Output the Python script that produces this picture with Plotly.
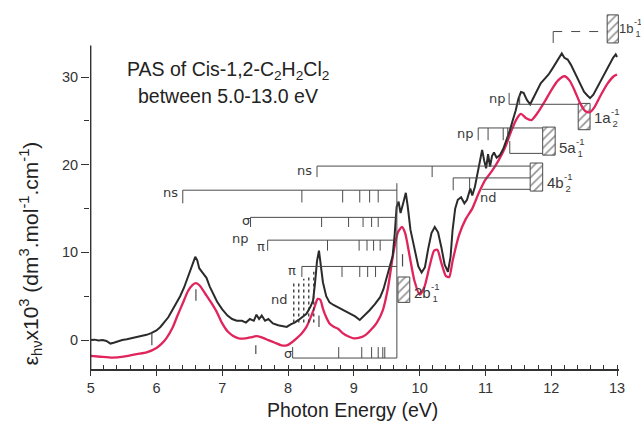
import plotly.graph_objects as go

# ---------------- data ----------------
black_energy = [5.00, 5.06, 5.12, 5.18, 5.24, 5.30, 5.35, 5.42, 5.48, 5.55, 5.62, 5.70, 5.78, 5.85, 5.92,
                6.00, 6.06, 6.12, 6.18, 6.24, 6.30, 6.36, 6.42, 6.47, 6.52, 6.56, 6.59, 6.62, 6.65, 6.70,
                6.76, 6.81, 6.86, 6.92, 7.00, 7.08, 7.15, 7.22, 7.30, 7.36, 7.42, 7.48, 7.52, 7.56, 7.60,
                7.65, 7.70, 7.77, 7.85, 7.92, 7.98, 8.04, 8.10, 8.16, 8.22, 8.28, 8.34, 8.38, 8.41, 8.44,
                8.47, 8.50, 8.53, 8.58, 8.63, 8.69, 8.74, 8.80, 8.87, 8.94, 9.02, 9.09, 9.16, 9.24, 9.32,
                9.40, 9.45, 9.50, 9.55, 9.59, 9.62, 9.65, 9.68, 9.71, 9.75, 9.79, 9.82, 9.86, 9.90, 9.94,
                9.98, 10.03, 10.08, 10.13, 10.18, 10.23, 10.28, 10.33, 10.38, 10.43, 10.47, 10.50, 10.54,
                10.58, 10.63, 10.68, 10.72, 10.77, 10.80, 10.84, 10.88, 10.92, 10.95, 10.98, 11.01, 11.04,
                11.07, 11.10, 11.13, 11.17, 11.22, 11.27, 11.32, 11.37, 11.42, 11.46, 11.50, 11.54, 11.58,
                11.63, 11.68, 11.73, 11.78, 11.84, 11.90, 11.96, 12.02, 12.07, 12.12, 12.16, 12.20, 12.25,
                12.30, 12.35, 12.40, 12.45, 12.50, 12.55, 12.59, 12.64, 12.69, 12.74, 12.79, 12.84, 12.89,
                12.94, 12.98, 13.00]
black_eps = [0.0, 0.05, -0.05, 0.0, -0.1, -0.4, -0.3, -0.1, 0.0, 0.1, 0.2, 0.3, 0.5, 0.6, 0.8,
             1.1, 1.5, 2.1, 2.6, 3.4, 4.2, 5.0, 6.0, 7.0, 8.2, 9.0, 9.5, 9.1, 8.2, 7.7,
             7.1, 6.1, 5.3, 4.4, 3.5, 2.8, 2.4, 2.2, 2.2, 2.0, 2.4, 2.2, 2.9, 2.4, 2.8,
             2.2, 2.4, 1.9, 1.7, 1.6, 1.5, 1.8, 2.0, 2.3, 2.6, 3.0, 3.8, 4.5, 6.5, 9.0,
             10.2, 8.5, 6.6, 5.0, 4.3, 4.0, 3.8, 3.6, 3.3, 3.0, 2.7, 2.3, 2.8, 3.4, 4.1,
             4.9, 5.8, 7.1, 8.3, 9.6, 12.0, 15.2, 15.8, 14.5, 15.6, 16.8, 15.2, 12.6, 11.2, 9.9,
             8.4, 7.7, 8.3, 10.4, 12.2, 12.9, 12.3, 10.6, 8.6, 7.8, 9.5, 12.5, 15.0,
             16.0, 16.3, 15.6, 16.0, 17.3, 16.5, 17.5, 19.0, 20.8, 21.7, 20.5, 19.6, 21.2,
             19.8, 21.0, 21.4, 20.8, 21.1, 21.8, 22.8, 23.9, 25.2, 26.2, 27.5, 28.3, 28.2,
             27.4, 26.9, 27.6, 28.3, 29.3, 29.8, 30.3, 31.0, 31.6, 32.3, 32.7, 32.2, 32.0,
             31.4, 30.6, 29.9, 29.0, 28.3, 27.9, 27.6, 28.0, 28.7, 29.5, 30.1, 30.8, 31.6,
             32.2, 32.6, 32.3]

pink_energy = [5.00, 5.15, 5.33, 5.50, 5.70, 5.85, 6.00, 6.08, 6.15, 6.25, 6.32, 6.40, 6.48, 6.55, 6.60,
               6.66, 6.75, 6.83, 6.91, 7.00, 7.08, 7.16, 7.25, 7.35, 7.45, 7.52, 7.60, 7.70, 7.80, 7.90,
               7.98, 8.05, 8.13, 8.20, 8.28, 8.35, 8.40, 8.45, 8.49, 8.53, 8.58, 8.63, 8.70, 8.76, 8.83,
               8.92, 9.00, 9.10, 9.18, 9.25, 9.35, 9.44, 9.52, 9.60, 9.67, 9.73, 9.78, 9.85, 9.92, 10.00,
               10.07, 10.15, 10.22, 10.27, 10.33, 10.40, 10.45, 10.50, 10.60, 10.70, 10.80, 10.90, 11.00,
               11.10, 11.20, 11.30, 11.40, 11.48, 11.54, 11.62, 11.70, 11.80, 11.90, 12.00, 12.10, 12.20,
               12.28, 12.36, 12.44, 12.52, 12.59, 12.66, 12.75, 12.85, 12.95, 13.00]
pink_eps = [-1.8, -1.9, -2.0, -1.9, -1.6, -1.4, -0.9, -0.4, 0.2, 1.5, 2.8, 4.2, 5.6, 6.3, 6.5,
            6.2, 5.2, 4.3, 3.3, 1.9, 1.0, 0.5, 0.2, 0.2, 0.35, 0.45, 0.3, 0.0, -0.3, -0.6,
            -0.6, -0.3, 0.2, 0.7, 1.5, 2.7, 3.7, 4.7, 4.6, 3.6, 2.6, 1.9, 1.5, 1.3, 0.8,
            0.4, 0.2, 0.3, 0.6, 1.1, 2.0, 3.4, 6.0, 9.9, 12.3, 12.9, 12.2, 9.5, 6.8, 5.2,
            6.0, 8.4, 10.2, 10.3, 8.8, 7.3, 7.2, 9.0, 12.0, 13.8, 15.0, 16.8, 18.3,
            19.3, 20.5, 22.0, 24.0, 25.3, 25.8, 25.3, 25.1, 26.0, 27.2, 28.5, 29.6, 30.1,
            29.6, 28.4, 27.0, 26.1, 26.0, 26.6, 27.9, 29.2, 30.1, 30.3]

x_tick_vals = [5, 6, 7, 8, 9, 10, 11, 12, 13]
x_minor_vals = [round(5 + 0.2 * i, 1) for i in range(41)]
y_tick_vals = [0, 10, 20, 30]
y_minor_vals = [5, 15, 25]
y_axis_top = 33.6

# Rydberg-series brackets: start, end, line level, hook end, tick energies, tick end
bracket_x0 = [6.40, 7.43, 7.69, 8.21, 8.07, 8.44, 10.51, 10.89, 11.37, 11.36]
bracket_x1 = [9.654, 9.654, 9.654, 9.654, 9.654, 11.68, 11.68, 11.87, 11.87, 12.41]
bracket_y = [17.1, 14.0, 11.4, 8.4, -2.05, 19.85, 18.5, 24.2, 21.3, 26.9]
bracket_hook = [15.6, 12.9, 10.2, 7.2, -0.8, 18.6, 17.1, 22.8, 22.7, 28.2]
bracket_ticks = [[8.21, 8.83, 9.09, 9.24, 9.37],
                 [8.51, 8.92, 9.14, 9.27, 9.37],
                 [8.60, 9.08, 9.20, 9.30, 9.40],
                 [8.82, 9.09, 9.21, 9.33],
                 [8.77, 9.12, 9.27, 9.37, 9.44, 9.47],
                 [10.19],
                 [10.76],
                 [11.04, 11.27, 11.34],
                 [],
                 [11.52]]
bracket_tick_to = [15.7, 12.9, 10.2, 7.2, -0.8, 18.6, 17.2, 22.8, 22.7, 27.9]
extra_line_x0 = [10.95]
extra_line_x1 = [11.68]
extra_line_y = [17.2]

series_labels = ["ns", "σ", "np", "π", "π", "nd", "σ", "ns", "nd", "np", "np"]
series_label_x = [6.21, 7.36, 7.28, 7.59, 8.06, 7.87, 8.00, 8.25, 11.04, 10.70, 11.19]
series_label_y = [16.8, 13.6, 11.6, 10.7, 7.9, 4.6, -1.5, 19.4, 16.3, 23.6, 27.6]

# ionisation limits (hatched boxes)
box_name = ["2b", "4b", "5a", "1a", "1b"]
box_sub = ["1", "2", "1", "2", "1"]
box_x0 = [9.67, 11.68, 11.87, 12.41, 12.85]
box_x1 = [9.85, 11.87, 12.06, 12.59, 13.02]
box_y0 = [4.3, 17.0, 21.1, 24.0, 33.9]
box_y1 = [7.2, 20.2, 24.3, 27.0, 37.1]
box_label_y = [5.4, 18.0, 22.0, 25.4, 35.6]

# single band markers
mark_x = [5.93, 6.60, 7.51, 8.47, 9.74]
mark_y0 = [-0.6, 4.5, -1.6, 1.5, 8.4]
mark_y1 = [0.8, 5.8, -0.6, 2.8, 9.8]

# nd lines (dotted)
nd_x = [8.087, 8.163, 8.239, 8.315, 8.391]
nd_top = [6.6, 6.7, 7.0, 7.2, 7.8]
nd_bottom = 2.0

limit_x = 9.654
limit_y = [-2.05, 17.9]
top_x = [12.03, 12.86]
top_y = [35.2, 33.9]

# ---------------- figure ----------------
ann_col = "#4a4a4a"
fig = go.Figure()

for i in range(len(box_name)):
    fig.add_trace(go.Scatter(
        x=[box_x0[i], box_x1[i], box_x1[i], box_x0[i], box_x0[i]],
        y=[box_y0[i], box_y0[i], box_y1[i], box_y1[i], box_y0[i]],
        mode="lines", fill="toself", fillcolor="rgba(0,0,0,0)",
        fillpattern=dict(shape="/", fgcolor="#333", bgcolor="white", size=6, solidity=0.3),
        line=dict(color=ann_col, width=1), hoverinfo="skip", showlegend=False))

fig.add_trace(go.Scatter(x=pink_energy, y=pink_eps, mode="lines",
                         line=dict(color="#e0245c", width=2.3, shape="spline", smoothing=0.6),
                         showlegend=False))
fig.add_trace(go.Scatter(x=black_energy, y=black_eps, mode="lines",
                         line=dict(color="#2b2b2b", width=2), showlegend=False))

def seg(x0, y0, x1, y1, dash="solid", width=1, color=ann_col):
    fig.add_shape(type="line", x0=x0, y0=y0, x1=x1, y1=y1, xref="x", yref="y",
                  line=dict(color=color, width=width, dash=dash))

# y axis line (stops below the top of the plotting area)
seg(5, -3.3, 5, y_axis_top, width=1.5, color="#333")

for i in range(len(bracket_x0)):
    seg(bracket_x0[i], bracket_y[i], bracket_x1[i], bracket_y[i])
    seg(bracket_x0[i], bracket_y[i], bracket_x0[i], bracket_hook[i])
    for t in bracket_ticks[i]:
        seg(t, bracket_y[i], t, bracket_tick_to[i])
for i in range(len(extra_line_x0)):
    seg(extra_line_x0[i], extra_line_y[i], extra_line_x1[i], extra_line_y[i])

seg(limit_x, limit_y[0], limit_x, limit_y[1])
seg(top_x[0], top_y[0], top_x[1], top_y[0], dash="dash")
seg(top_x[0], top_y[0], top_x[0], top_y[1])

for i in range(len(mark_x)):
    seg(mark_x[i], mark_y0[i], mark_x[i], mark_y1[i], width=1.2)
for i in range(len(nd_x)):
    seg(nd_x[i], nd_bottom, nd_x[i], nd_top[i], dash="dot", width=1.3, color="#333")

lab_font = dict(family="DejaVu Sans", size=13, color="#3a3a3a")
for i in range(len(series_labels)):
    fig.add_annotation(x=series_label_x[i], y=series_label_y[i], text=series_labels[i],
                       showarrow=False, font=lab_font, xanchor="center", yanchor="middle")

for i in range(len(box_name)):
    last = i == len(box_name) - 1
    fig.add_annotation(x=min(box_x1[i], 13.0), y=box_label_y[i], text=box_name[i],
                       showarrow=False, xanchor="left", yanchor="middle", xshift=0 if last else 2,
                       font=dict(family="Liberation Sans, Arial", size=13 if last else 15,
                                 color="#3a3a3a"))
    fig.add_annotation(x=min(box_x1[i], 13.0), y=box_label_y[i], text="-1<br>" + box_sub[i],
                       showarrow=False, xanchor="left", yanchor="middle", xshift=15 if last else 19,
                       font=dict(family="Liberation Sans, Arial", size=9 if last else 9.5,
                                 color="#3a3a3a"))

title_font = dict(family="Liberation Sans, Arial", size=19.5, color="#222")
fig.add_annotation(x=7.08, y=30.8, text="PAS of Cis-1,2-C<sub>2</sub>H<sub>2</sub>Cl<sub>2</sub>",
                   showarrow=False, font=title_font, xanchor="center", yanchor="middle")
fig.add_annotation(x=7.08, y=27.9, text="between 5.0-13.0 eV",
                   showarrow=False, font=title_font, xanchor="center", yanchor="middle")

fig.add_annotation(xref="paper", yref="paper", x=0.497, y=-0.113, text="Photon Energy (eV)",
                   showarrow=False, font=dict(family="Liberation Sans, Arial", size=19.5, color="#222"),
                   xanchor="center", yanchor="middle")
fig.add_annotation(xref="paper", yref="paper", x=-0.113, y=0.32, textangle=-90,
                   text="ε<sub>hν</sub>x10<sup>3</sup> (dm<sup>3</sup>.mol<sup>-1</sup>.cm<sup>-1</sup>)",
                   showarrow=False, font=dict(family="Liberation Sans, Arial", size=21, color="#222"),
                   xanchor="center", yanchor="middle")

fig.update_layout(
    width=641, height=421,
    margin=dict(l=90, r=22, t=7, b=52),
    paper_bgcolor="white", plot_bgcolor="white",
    showlegend=False,
    font=dict(family="Liberation Sans, Arial", size=14, color="#333"),
    xaxis=dict(range=[4.99, 13.03], tickvals=x_tick_vals, ticks="outside", ticklen=5,
               tickwidth=1.2, tickcolor="#333", showline=True, linecolor="#333", linewidth=1.5,
               showgrid=False, zeroline=False, tickfont=dict(size=14.5, color="#333"),
               minor=dict(tickvals=x_minor_vals, ticks="inside", ticklen=4, tickcolor="#333",
                          tickwidth=1, showgrid=False)),
    yaxis=dict(range=[-3.3, 38.0], tickvals=y_tick_vals, ticks="outside", ticklen=8,
               tickwidth=1.2, tickcolor="#333", showline=False, showgrid=False, zeroline=False,
               tickfont=dict(size=14.5, color="#333"),
               minor=dict(tickvals=y_minor_vals, ticks="outside", ticklen=5, tickcolor="#333",
                          tickwidth=1, showgrid=False)),
)

fig.write_html("out.html")
